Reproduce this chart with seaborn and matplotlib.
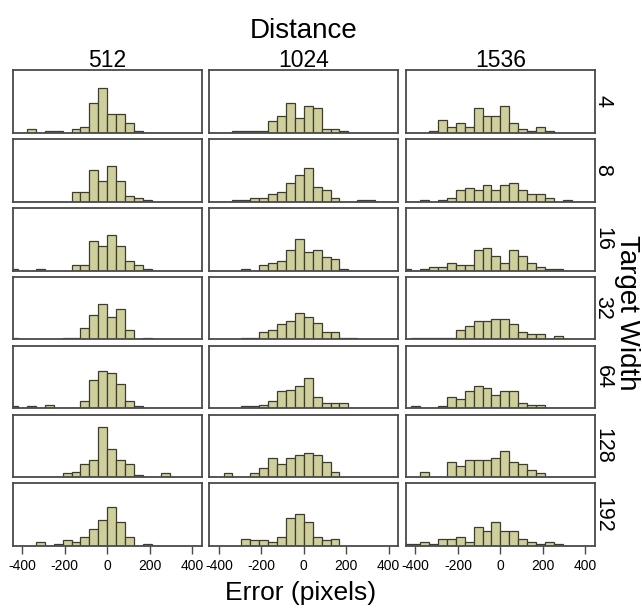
import numpy as np
import pandas as pd
import matplotlib
matplotlib.use("Agg")
import matplotlib.pyplot as plt
import seaborn as sns

# ---------------- data ----------------
distances = [512, 1024, 1536]
widths = [4, 8, 16, 32, 64, 128, 192]
bin_width = 42
bin_left = [k * bin_width for k in range(-11, 11)]          # 22 bins, -462 .. 420
x_ticks = [-400, -200, 0, 200, 400]

counts_512 = {
    4:   [0,0,2,0,1,1,0,2,3,16,24,10,10,5,1,0,0,0,0,0,0,0],
    8:   [0,0,0,0,0,0,0,5,5,17,11,19,11,3,2,1,0,0,0,0,0,0],
    16:  [1,0,0,1,0,0,0,3,3,16,13,19,13,5,3,1,0,0,0,0,0,0],
    32:  [1,0,0,0,0,0,1,1,6,13,19,12,16,5,0,1,0,0,0,0,0,0],
    64:  [1,0,1,0,2,0,0,0,4,15,20,19,13,4,1,0,0,0,0,0,0,0],
    128: [0,0,0,0,0,0,2,3,7,9,27,15,9,7,1,0,0,2,0,0,0,0],
    192: [0,0,0,2,0,1,3,2,5,9,14,21,13,5,0,1,0,0,0,0,0,0],
}
counts_1024 = {
    4:   [0,0,0,1,1,1,1,6,9,16,8,14,13,2,2,1,0,0,0,0,0,0],
    8:   [0,0,0,1,1,2,2,4,5,10,14,18,8,6,2,0,0,1,1,0,0,0],
    16:  [0,0,0,0,1,0,3,4,5,11,17,10,11,7,6,1,0,0,0,0,0,0],
    32:  [0,0,0,0,1,1,4,5,8,10,14,12,9,4,4,1,1,0,0,0,0,0],
    64:  [0,0,0,0,1,1,2,4,9,10,12,16,6,3,3,3,0,0,0,0,0,0],
    128: [0,0,2,0,0,2,5,10,7,10,12,13,12,8,3,0,0,0,0,0,0,0],
    192: [0,0,0,0,4,3,3,2,5,15,17,13,5,3,4,0,0,0,0,0,0,0],
}
counts_1536 = {
    4:   [0,0,0,1,7,3,5,3,13,9,9,14,5,2,1,3,1,0,0,0,0,0],
    8:   [0,0,1,0,1,2,6,7,6,9,6,9,10,6,4,4,2,0,1,0,0,0],
    16:  [1,0,1,2,2,4,3,3,11,12,8,4,11,8,4,2,1,1,0,0,0,0],
    32:  [0,1,1,1,1,1,5,7,10,10,11,11,8,4,3,3,0,2,0,0,0,0],
    64:  [0,1,0,0,1,6,5,9,12,11,7,9,9,3,2,2,0,0,0,0,0,0],
    128: [0,0,3,0,0,8,6,9,9,9,10,14,8,7,4,2,0,0,0,0,0,0],
    192: [1,1,2,1,4,4,5,2,10,8,13,8,8,4,2,1,2,1,0,0,0,0],
}
counts_by_distance = {512: counts_512, 1024: counts_1024, 1536: counts_1536}

rows = []
for d in distances:
    for w in widths:
        for left, c in zip(bin_left, counts_by_distance[d][w]):
            rows.append({"distance": d, "width": w,
                         "center": left + bin_width / 2, "count": c})
df = pd.DataFrame(rows)
edges = bin_left + [bin_left[-1] + bin_width]

# ---------------- style ----------------
sns.set_style("white")
plt.rcParams["font.family"] = ["Liberation Sans", "DejaVu Sans"]
plt.rcParams["text.color"] = "black"
plt.rcParams["xtick.color"] = "black"
plt.rcParams["xtick.labelcolor"] = "black"

W, H = 642, 608
fig = plt.figure(figsize=(W / 100, H / 100), dpi=100)

face = "#cfcf9c"
edge = "#3c3c30"
frame = "#4a4a4a"
narrow = ["Liberation Sans Narrow", "Liberation Sans", "DejaVu Sans"]

left_px, top_px = 12.7, 70.0
pw, ph = 189.0, 62.7
col_pitch, row_pitch = 196.6, 68.9

for ci, d in enumerate(distances):
    for ri, w in enumerate(widths):
        x0 = left_px + ci * col_pitch
        y0 = top_px + ri * row_pitch
        ax = fig.add_axes([x0 / W, 1 - (y0 + ph) / H, pw / W, ph / H])
        sub = df[(df.distance == d) & (df.width == w)]
        sns.histplot(data=sub, x="center", weights="count", bins=edges, ax=ax,
                     color=face, edgecolor=edge, linewidth=0.9, alpha=1)
        ax.set_xlim(-445, 445)
        ax.set_ylim(0, 33.5)
        ax.set_xlabel("")
        ax.set_ylabel("")
        ax.set_yticks([])
        for s in ax.spines.values():
            s.set_visible(True)
            s.set_color(frame)
            s.set_linewidth(1.3)
        if ri == len(widths) - 1:
            ax.set_xticks(x_ticks)
            ax.set_xticklabels([str(t) for t in x_ticks])
            ax.tick_params(axis="x", direction="out", length=6, width=1,
                           color=frame, pad=3, labelsize=10, bottom=True)
            for lab in ax.get_xticklabels():
                lab.set_family(narrow)
        else:
            ax.set_xticks([])
        if ri == 0:
            fig.text((x0 + pw / 2) / W, 1 - 67 / H, str(d), ha="center",
                     va="baseline", fontsize=16.5, family=narrow)
        if ci == len(distances) - 1:
            fig.text(603 / W, 1 - (y0 + ph / 2) / H, str(w), ha="center",
                     va="center", rotation=270, fontsize=15.5, family=narrow)

fig.text(303.5 / W, 1 - 38 / H, "Distance", ha="center", va="baseline", fontsize=20)
fig.text(627 / W, 1 - 313 / H, "Target Width", ha="center", va="center",
         rotation=270, fontsize=20)
fig.text(301 / W, 1 - 600 / H, "Error (pixels)", ha="center", va="baseline", fontsize=19)

fig.savefig("out.png", dpi=100)
